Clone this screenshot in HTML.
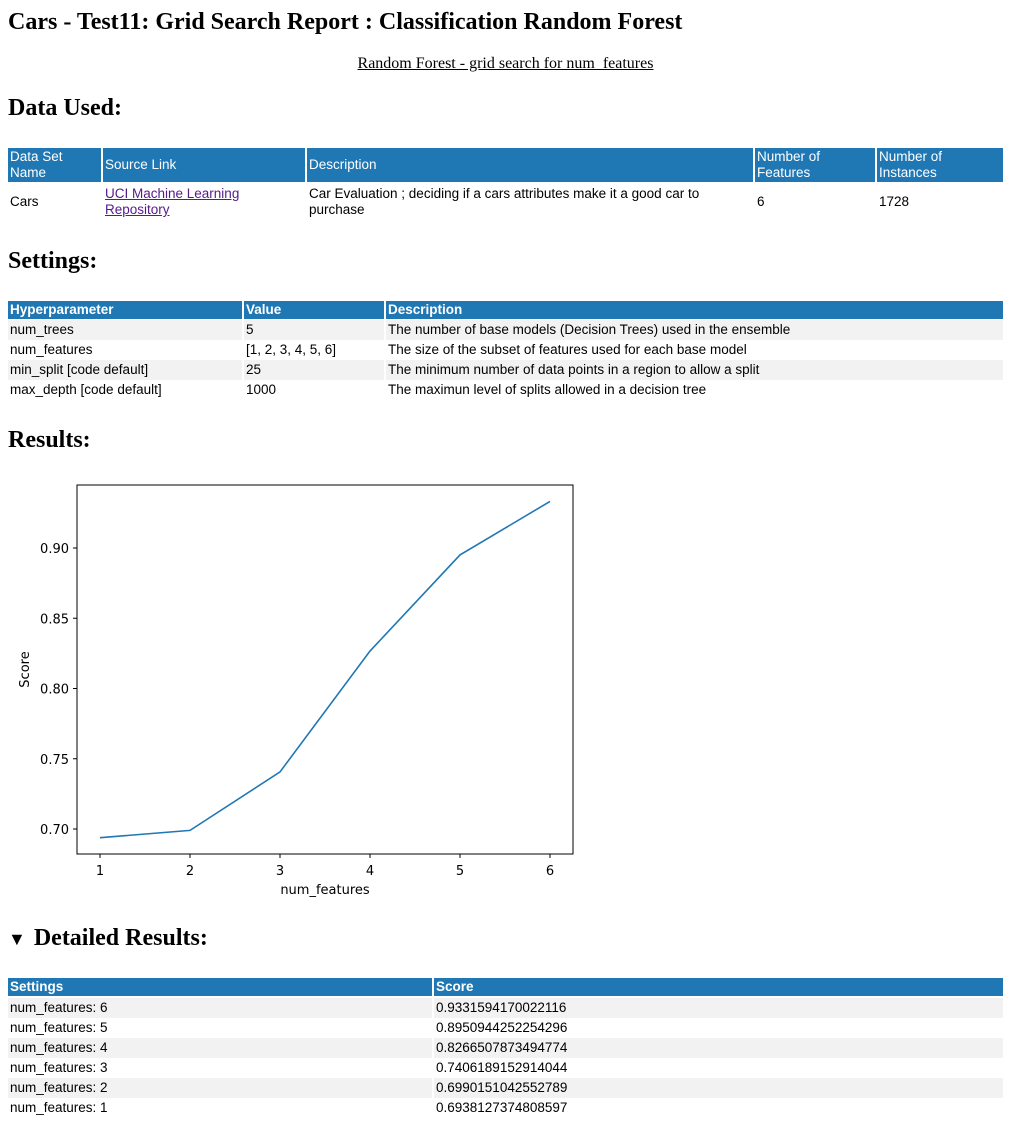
<!DOCTYPE html>
<html><head><meta charset="utf-8">
<style>
body{margin:0;width:1019px;height:1123px;position:relative;background:#fff;font-family:"Liberation Serif",serif;overflow:hidden}
.h{position:absolute;left:8px;font-weight:bold;font-size:24px;line-height:28px;margin:0}
.t{position:absolute;font-family:"Liberation Sans",sans-serif;font-size:13.5px;color:#000}
.c{position:absolute;box-sizing:border-box;padding:0 2px;display:flex;align-items:center;line-height:16px}
.hd{background:#1f77b4;color:#fff}
.b{font-weight:bold}
.g{background:#f2f2f2}
a{color:#551a8b;text-decoration:underline}
</style></head><body>
<h2 class="h" style="top:8px">Cars - Test11: Grid Search Report : Classification Random Forest</h2>
<div style="position:absolute;top:55px;left:0;width:1011px;text-align:center;font-size:16px;text-decoration:underline">Random Forest - grid search for num_features</div>
<h2 class="h" style="top:94px">Data Used:</h2>

<div class="t">
<div class="c hd" style="left:8px;top:148px;width:93px;height:34px">Data Set Name</div>
<div class="c hd" style="left:103px;top:148px;width:202px;height:34px">Source Link</div>
<div class="c hd" style="left:307px;top:148px;width:446px;height:34px">Description</div>
<div class="c hd" style="left:755px;top:148px;width:120px;height:34px">Number of Features</div>
<div class="c hd" style="left:877px;top:148px;width:126px;height:34px">Number of Instances</div>
<div class="c" style="left:8px;top:184px;width:93px;height:36px">Cars</div>
<div class="c" style="left:103px;top:184px;width:202px;height:36px"><a>UCI Machine Learning Repository</a></div>
<div class="c" style="left:307px;top:184px;width:446px;height:36px">Car Evaluation ; deciding if a cars attributes make it a good car to purchase</div>
<div class="c" style="left:755px;top:184px;width:120px;height:36px">6</div>
<div class="c" style="left:877px;top:184px;width:126px;height:36px">1728</div>
</div>

<h2 class="h" style="top:247px">Settings:</h2>
<div class="t">
<div class="c hd b" style="left:8px;top:301px;width:234px;height:18px">Hyperparameter</div>
<div class="c hd b" style="left:244px;top:301px;width:140px;height:18px">Value</div>
<div class="c hd b" style="left:386px;top:301px;width:617px;height:18px">Description</div>
<div class="c g" style="left:8px;top:320px;width:234px;height:20px">num_trees</div>
<div class="c g" style="left:244px;top:320px;width:140px;height:20px">5</div>
<div class="c g" style="left:386px;top:320px;width:617px;height:20px">The number of base models (Decision Trees) used in the ensemble</div>
<div class="c" style="left:8px;top:340px;width:234px;height:20px">num_features</div>
<div class="c" style="left:244px;top:340px;width:140px;height:20px">[1, 2, 3, 4, 5, 6]</div>
<div class="c" style="left:386px;top:340px;width:617px;height:20px">The size of the subset of features used for each base model</div>
<div class="c g" style="left:8px;top:360px;width:234px;height:20px">min_split [code default]</div>
<div class="c g" style="left:244px;top:360px;width:140px;height:20px">25</div>
<div class="c g" style="left:386px;top:360px;width:617px;height:20px">The minimum number of data points in a region to allow a split</div>
<div class="c" style="left:8px;top:380px;width:234px;height:20px">max_depth [code default]</div>
<div class="c" style="left:244px;top:380px;width:140px;height:20px">1000</div>
<div class="c" style="left:386px;top:380px;width:617px;height:20px">The maximun level of splits allowed in a decision tree</div>
</div>

<h2 class="h" style="top:426px">Results:</h2>
<svg id="chart" width="1019" height="430" style="position:absolute;left:0;top:470px" font-family="DejaVu Sans, sans-serif" font-size="13"></svg>

<h2 class="h" style="top:924px"><span style="font-size:18px;margin-right:8px">▼</span>Detailed Results:</h2>
<div class="t" id="dt">
<div class="c hd b" style="left:8px;top:978px;width:424px;height:18px">Settings</div>
<div class="c hd b" style="left:434px;top:978px;width:569px;height:18px">Score</div>
</div>

<script>
const xs=[1,2,3,4,5,6];
const scores=[0.6938127374808597,0.6990151042552789,0.7406189152914044,0.8266507873494774,0.8950944252254296,0.9331594170022116];
const scoreText=["0.6938127374808597","0.6990151042552789","0.7406189152914044","0.8266507873494774","0.8950944252254296","0.9331594170022116"];
const yTicks=[0.70,0.75,0.80,0.85,0.90];
const yTickLabels=["0.70","0.75","0.80","0.85","0.90"];

const NS="http://www.w3.org/2000/svg";
const svg=document.getElementById('chart');
const L=77,R=573,T=15,B=384;
function xS(v){return 100+(v-1)*(550-100)/5;}
function yS(v){return 359-(v-0.70)*(281/0.20);}
function mk(tag,attrs){const e=document.createElementNS(NS,tag);for(const k in attrs)e.setAttribute(k,attrs[k]);svg.appendChild(e);return e;}
let f=mk('rect',{x:L,y:T,width:R-L,height:B-T,fill:'none',stroke:'#000','stroke-width':1});


xs.forEach(v=>{
  let t=mk('line',{x1:xS(v),x2:xS(v),y1:B,y2:B+4,stroke:'#000'});
  
  
  let l=mk('text',{x:xS(v),y:B+21,'text-anchor':'middle'});l.textContent=v;
  
  
});
yTicks.forEach((v,i)=>{
  let t=mk('line',{x1:L-4,x2:L,y1:yS(v),y2:yS(v),stroke:'#000'});
  
  
  let l=mk('text',{x:L-8,y:yS(v)+5,'text-anchor':'end'});l.textContent=yTickLabels[i];
  
  
});
let xt=mk('text',{x:(L+R)/2,y:B+40,'text-anchor':'middle'});xt.textContent='num_features';


let yt=mk('text',{x:0,y:0,'text-anchor':'middle',transform:`translate(29,${(T+B)/2}) rotate(-90)`});yt.textContent='Score';


let p=mk('polyline',{points:xs.map((v,i)=>xS(v)+','+yS(scores[i])).join(' '),fill:'none',stroke:'#1f77b4','stroke-width':1.6});



const dt=document.getElementById('dt');
for(let k=0;k<6;k++){
  const i=5-k;const top=998+k*20;const g=k%2===0?' g':'';
  const a=document.createElement('div');a.className='c'+g;
  a.style.cssText=`left:8px;top:${top}px;width:424px;height:20px`;
  a.textContent='num_features: '+xs[i];
  
  
  dt.appendChild(a);
  const b=document.createElement('div');b.className='c'+g;
  b.style.cssText=`left:434px;top:${top}px;width:569px;height:20px`;
  b.textContent=scoreText[i];
  
  
  dt.appendChild(b);
}
</script>
</body></html>
